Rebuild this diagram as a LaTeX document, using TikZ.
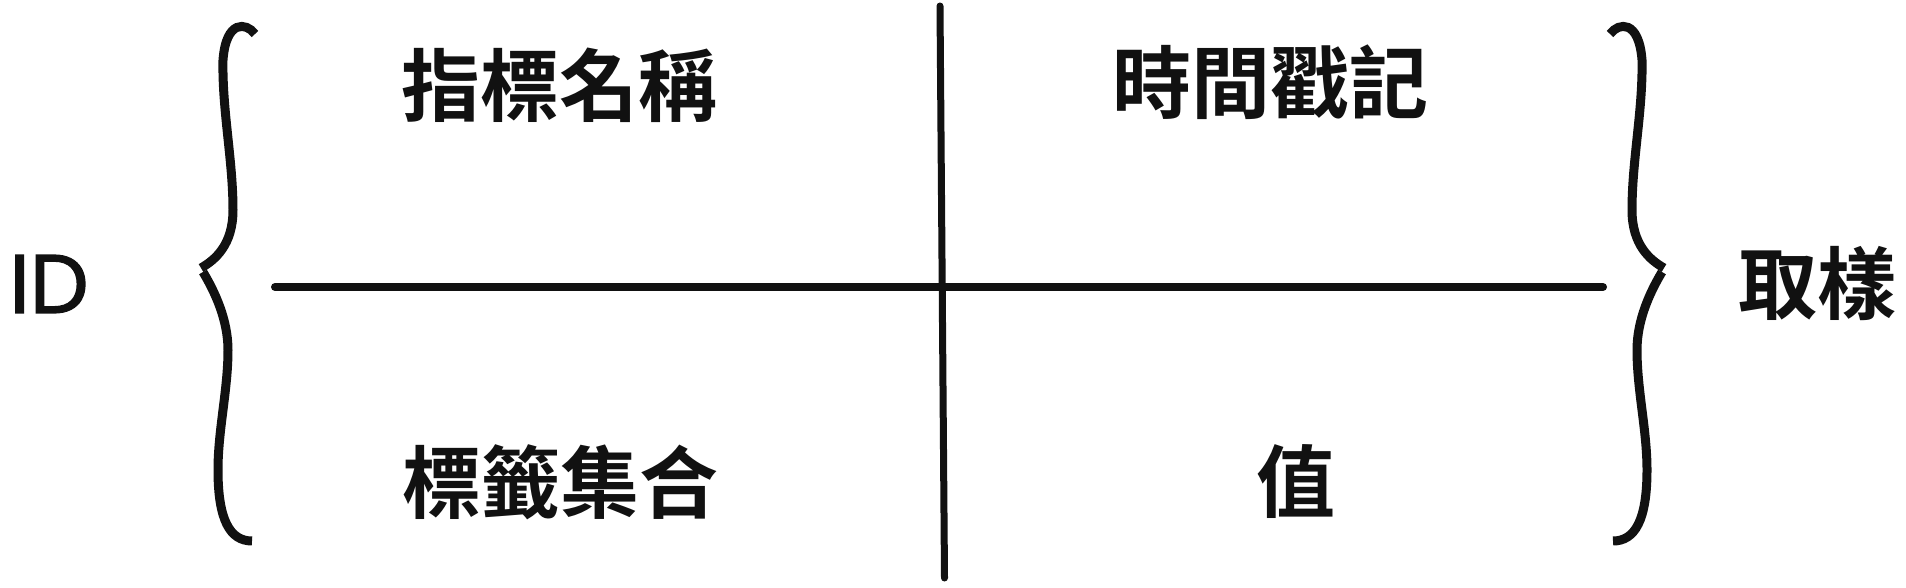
\documentclass[tikz,border=0pt]{standalone}
\usepackage{fontspec}
\newfontfamily\cjk{Noto Sans CJK TC}[BoldFont={Noto Sans CJK TC Bold}]
\newfontfamily\latinfont{Poppins}[FakeBold=1.6]
\definecolor{ink}{HTML}{111111}
\begin{document}
\begin{tikzpicture}[x=1pt,y=-1pt,
  lbl/.style={text=ink, inner sep=0pt, font=\cjk\bfseries\fontsize{79}{90}\selectfont},
  idlbl/.style={text=ink, inner sep=0pt, font=\latinfont\fontsize{83}{90}\selectfont},
  axisline/.style={draw=ink, line width=8pt, line cap=round},
  bracestroke/.style={draw=ink, line width=9pt, line cap=butt}]
\path[use as bounding box, fill=white] (0,0) rectangle (1906,588);
% labels
\node[lbl] (metric) at (559,85) {指標名稱};
\node[lbl] (ts) at (1270,82) {時間戳記};
\node[lbl] (labels) at (560,482) {標籤集合};
\node[lbl] (val) at (1296,482) {值};
\node[lbl] (sample) at (1817,284) {取樣};
\node[idlbl] (id) at (49,284) {ID};
% axes
\coordinate (hL) at (275,287);
\coordinate (hR) at (1603,287);
\coordinate (vT) at (940,6);
\coordinate (vB) at (944.5,578);
\draw[axisline] (hL) -- (hR);
\draw[axisline, line width=7pt] (vT) -- (vB);
% left brace
\draw[bracestroke] (255,34) .. controls (246,22) and (226,20) .. (223,60)
  .. controls (222,110) and (233,160) .. (233,210)
  .. controls (233,245) and (215,260) .. (201,268);
\draw[bracestroke] (203,272) .. controls (215,292) and (228,320) .. (228,350)
  .. controls (228,390) and (218,430) .. (218,470)
  .. controls (218,520) and (230,541) .. (252,541);
% right brace (mirror)
\begin{scope}[xshift=1865pt, xscale=-1]
\draw[bracestroke] (255,34) .. controls (246,22) and (226,20) .. (223,60)
  .. controls (222,110) and (233,160) .. (233,210)
  .. controls (233,245) and (215,260) .. (201,268);
\draw[bracestroke] (203,272) .. controls (215,292) and (228,320) .. (228,350)
  .. controls (228,390) and (218,430) .. (218,470)
  .. controls (218,520) and (230,541) .. (252,541);
\end{scope}
\end{tikzpicture}
\end{document}
